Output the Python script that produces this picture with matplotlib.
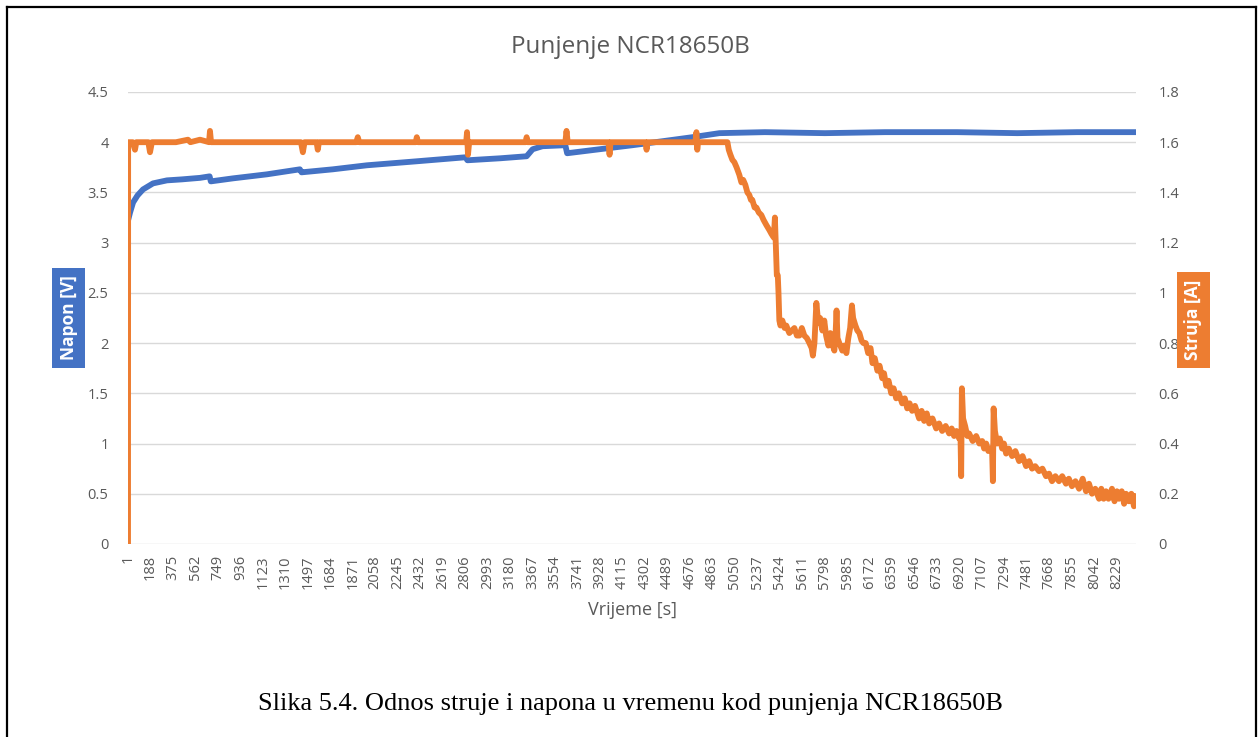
import numpy as np
import matplotlib.pyplot as plt

# napon (plava) - vrijeme [s], napon [V]
t_napon = [1, 18, 43, 80, 126, 209, 325, 450, 600, 680, 690, 874, 1156, 1431, 1445,
           1705, 1988, 2404, 2810, 2825, 3100, 3318, 3368, 3450, 3640, 3655, 3925,
           4199, 4450, 4698, 4922, 5300, 5800, 6300, 6900, 7400, 7900, 8388]
napon = [3.22, 3.30, 3.40, 3.47, 3.53, 3.59, 3.62, 3.63, 3.645, 3.66, 3.61, 3.64,
         3.68, 3.73, 3.70, 3.73, 3.77, 3.81, 3.85, 3.82, 3.84, 3.86, 3.93, 3.96,
         3.97, 3.89, 3.93, 3.97, 4.01, 4.05, 4.09, 4.10, 4.09, 4.10, 4.10, 4.09,
         4.10, 4.10]

# struja (narandzasta) - vrijeme [s], struja [A]
t_struja = [1, 2, 40, 59, 70, 170, 184, 200, 400, 500, 520, 600, 675, 683, 692, 900,
            1440, 1456, 1470, 1570, 1580, 1590, 1900, 1913, 1925, 2395, 2404, 2414,
            2815, 2822, 2830, 2840, 3310, 3318, 3326, 3640, 3650, 3660, 4000, 4008,
            4016, 4308, 4316, 4324, 4722, 4731, 4738, 4745,
            4989, 5000, 5014, 5030, 5047, 5065, 5088, 5105, 5120, 5138, 5155, 5171,
            5185, 5196, 5215, 5230, 5250, 5271, 5290, 5313, 5338, 5355, 5375, 5384,
            5392, 5400, 5408, 5414, 5421, 5430, 5446, 5465, 5479, 5495, 5504, 5525,
            5546, 5567, 5588, 5608, 5629, 5650, 5671, 5690, 5700, 5713, 5729, 5745,
            5760, 5779, 5795, 5810, 5829, 5845, 5860, 5879, 5890, 5897, 5905, 5920,
            5945, 5960, 5979, 5995, 6010, 6025, 6035, 6054, 6070, 6087, 6105, 6120,
            6140, 6160, 6180, 6196, 6215, 6237, 6255, 6277, 6292, 6310, 6330, 6352,
            6372, 6393, 6415, 6443, 6465, 6485, 6505, 6526, 6550, 6584, 6605, 6626,
            6648, 6668, 6695, 6726, 6750, 6776, 6805, 6834, 6855, 6875, 6895, 6917,
            6928, 6934, 6940, 6950, 6967, 6985, 7000, 7030, 7059, 7085, 7109, 7125,
            7142, 7160, 7180, 7192, 7198, 7204, 7215, 7233, 7255, 7275, 7290, 7308,
            7330, 7358, 7385, 7416, 7445, 7474, 7500, 7524, 7550, 7582, 7610, 7640,
            7665, 7690, 7718, 7748, 7775, 7806, 7830, 7856, 7885, 7915, 7945, 7973,
            7998, 8023, 8050, 8081, 8100, 8120, 8139, 8160, 8189, 8210, 8230, 8247,
            8270, 8290, 8306, 8330, 8350, 8372, 8388]
struja = [0, 1.60, 1.60, 1.57, 1.60, 1.60, 1.56, 1.60, 1.60, 1.61, 1.60, 1.61, 1.60,
          1.645, 1.60, 1.60, 1.60, 1.56, 1.60, 1.60, 1.57, 1.60, 1.60, 1.62, 1.60,
          1.60, 1.62, 1.60, 1.60, 1.64, 1.55, 1.60, 1.60, 1.62, 1.60, 1.60, 1.645,
          1.60, 1.60, 1.55, 1.60, 1.60, 1.57, 1.60, 1.60, 1.64, 1.57, 1.60,
          1.60, 1.57, 1.55, 1.53, 1.52, 1.50, 1.47, 1.44, 1.45, 1.43, 1.40, 1.39,
          1.37, 1.37, 1.34, 1.34, 1.32, 1.31, 1.29, 1.27, 1.25, 1.235, 1.22, 1.30,
          1.18, 1.07, 1.07, 1.00, 0.89, 0.87, 0.89, 0.86, 0.87, 0.85, 0.84, 0.85,
          0.86, 0.83, 0.83, 0.86, 0.83, 0.82, 0.80, 0.78, 0.75, 0.80, 0.96, 0.88,
          0.90, 0.85, 0.89, 0.83, 0.79, 0.84, 0.80, 0.77, 0.85, 0.93, 0.82, 0.80,
          0.77, 0.79, 0.76, 0.82, 0.86, 0.95, 0.90, 0.87, 0.85, 0.84, 0.81, 0.80,
          0.80, 0.76, 0.78, 0.72, 0.74, 0.69, 0.71, 0.66, 0.68, 0.63, 0.65, 0.60,
          0.62, 0.58, 0.60, 0.56, 0.58, 0.54, 0.56, 0.53, 0.55, 0.50, 0.53, 0.49,
          0.52, 0.48, 0.50, 0.46, 0.48, 0.45, 0.47, 0.44, 0.46, 0.43, 0.45, 0.42,
          0.44, 0.27, 0.62, 0.50, 0.47, 0.43, 0.44, 0.41, 0.43, 0.40, 0.41, 0.38,
          0.40, 0.37, 0.38, 0.36, 0.25, 0.54, 0.45, 0.40, 0.42, 0.38, 0.40, 0.36,
          0.38, 0.35, 0.37, 0.33, 0.35, 0.31, 0.33, 0.30, 0.31, 0.29, 0.30, 0.27,
          0.28, 0.25, 0.27, 0.25, 0.27, 0.24, 0.26, 0.23, 0.25, 0.22, 0.26, 0.21,
          0.24, 0.20, 0.22, 0.18, 0.22, 0.18, 0.21, 0.18, 0.22, 0.17, 0.21, 0.18,
          0.21, 0.16, 0.20, 0.17, 0.20, 0.15, 0.19]

x_ticks = list(range(1, 8230, 187))

siva = '#595959'
plava = '#4472C4'
narandzasta = '#ED7D31'
font_ose = ['Open Sans', 'DejaVu Sans']

fig = plt.figure(figsize=(12.6, 7.37), dpi=100)
ax = fig.add_axes([0.1016, 0.2619, 0.8, 0.6133])
ax2 = ax.twinx()

ax.plot(t_napon, napon, color=plava, lw=4.2, solid_joinstyle='round', zorder=3)
ax2.plot(t_struja, struja, color=narandzasta, lw=4.2, solid_joinstyle='round', zorder=3)

ax.set_xlim(1, 8389)
ax.set_ylim(0, 4.5)
ax2.set_ylim(0, 1.8)
ax.set_yticks(np.arange(0, 4.51, 0.5))
ax.set_yticklabels(['0', '0.5', '1', '1.5', '2', '2.5', '3', '3.5', '4', '4.5'])
ax2.set_yticks(np.arange(0, 1.81, 0.2))
ax2.set_yticklabels(['0', '0.2', '0.4', '0.6', '0.8', '1', '1.2', '1.4', '1.6', '1.8'])
ax.set_xticks(x_ticks)
ax.set_xticklabels([str(v) for v in x_ticks], rotation=90)

ax.grid(axis='y', color='#d9d9d9', lw=1)
ax.set_axisbelow(True)
for a in (ax, ax2):
    for s in a.spines.values():
        s.set_visible(False)
    a.tick_params(length=0, colors=siva, labelsize=10.5)
    for lab in a.get_xticklabels() + a.get_yticklabels():
        lab.set_family(font_ose)
ax.tick_params(axis='y', pad=14)
ax2.tick_params(axis='y', pad=16)
ax.tick_params(axis='x', pad=8, labelsize=10.5)

ax.set_xlabel('Vrijeme [s]', color=siva, fontsize=13, family=font_ose, labelpad=9)

fig.text(0.5, 0.936, 'Punjenje NCR18650B', ha='center', va='center', color=siva,
         fontsize=17.5, family=['Liberation Sans Narrow', 'Open Sans', 'DejaVu Sans'])

# oznake osa u obojenim kutijama
fig.text(0.0544, 0.5685, 'Napon [V]', rotation=90, ha='center', va='center', color='white',
         fontsize=12.5, fontweight='bold', family=font_ose,
         bbox=dict(boxstyle='square,pad=0.45', fc=plava, ec='none'))
fig.text(0.9472, 0.5658, 'Struja [A]', rotation=90, ha='center', va='center', color='white',
         fontsize=12.5, fontweight='bold', family=font_ose,
         bbox=dict(boxstyle='square,pad=0.45', fc=narandzasta, ec='none'))

fig.text(0.5, 0.045, 'Slika 5.4. Odnos struje i napona u vremenu kod punjenja NCR18650B',
         ha='center', va='center', color='black', fontsize=19,
         family=['Liberation Serif', 'DejaVu Serif'])

# okvir oko slike
fig.add_artist(plt.Line2D([0.0056, 0.0056], [0.0, 0.9905], color='black', lw=1.6))
fig.add_artist(plt.Line2D([0.9968, 0.9968], [0.0, 0.9905], color='black', lw=1.6))
fig.add_artist(plt.Line2D([0.0056, 0.9968], [0.9905, 0.9905], color='black', lw=1.6))

plt.savefig('out.png', dpi=100)
